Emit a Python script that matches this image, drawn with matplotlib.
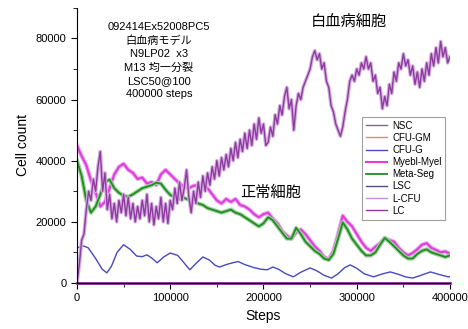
import matplotlib.pyplot as plt
import numpy as np
from matplotlib.ticker import MultipleLocator

# x grids
steps_lc = np.arange(0, 400001, 2500)
steps = np.arange(0, 400001, 5000)

# LC (leukemic cells), read every 2500 steps
lc = [0, 6000, 14000, 16000, 24000, 30000, 27000, 34000, 30000, 38000,
      43000, 30000, 36000, 24000, 29000, 21000, 26000, 20000, 27000, 23000,
      29000, 22000, 28000, 21000, 26000, 20000, 25000, 21000, 27000, 22000,
      29000, 20000, 26000, 19000, 25000, 21000, 28000, 20000, 26000, 19500,
      27000, 24000, 31000, 26000, 33000, 27000, 31000, 37000, 28000, 23000,
      30000, 26000, 33000, 28000, 35000, 30000, 36000, 32000, 38000, 34000,
      40000, 35000, 41000, 37000, 42000, 38000, 44000, 40000, 46000, 41000,
      47000, 43000, 49000, 44000, 50000, 45000, 52000, 47000, 54000, 49000,
      52000, 45000, 46000, 51000, 48000, 55000, 52000, 58000, 55000, 61000,
      64000, 57000, 60000, 50000, 58000, 62000, 60000, 64000, 66000, 68000,
      70000, 74000, 76000, 73000, 75000, 70000, 72000, 66000, 64000, 58000,
      56000, 52000, 50000, 48000, 51000, 56000, 60000, 66000, 68000, 66000,
      70000, 68000, 72000, 70000, 74000, 70000, 72000, 66000, 68000, 62000,
      64000, 57000, 61000, 58000, 65000, 62000, 69000, 66000, 72000, 70000,
      75000, 71000, 73000, 68000, 71000, 65000, 69000, 64000, 70000, 66000,
      72000, 68000, 75000, 71000, 77000, 72000, 79000, 74000, 77000, 72000,
      74000]

# Myebl-Myel, every 5000 steps
myel = [45000, 41500, 38500, 33500, 29500, 25000, 26500, 31000, 35500, 38000,
        39000, 37000, 36000, 34000, 34500, 32500, 33000, 32000, 35500, 37000,
        35500, 34000, 32500, 31500, 31000, 31800, 32000, 31500, 31000, 29000,
        27000, 26000, 27500, 26500, 27500, 25500, 25000, 24000, 22500, 21500,
        22500, 23000, 21000, 19500, 17000, 15500, 14500, 16500, 17500, 16000,
        14000, 12000, 10500, 8500, 7800, 10500, 16000, 22000, 20000, 18500,
        16000, 13500, 11500, 10500, 11800, 13000, 14700, 14000, 13500, 11500,
        10000, 9000, 9800, 11000, 12500, 13000, 11500, 10800, 10000, 10300,
        9500]

# Meta-Seg, every 5000 steps
metaseg = [40000, 35000, 27000, 23000, 25000, 29000, 33000, 33800, 31000, 29500,
           28500, 28200, 29000, 30000, 31000, 31500, 32000, 32800, 32500, 30500,
           28800, 28000, 27500, 27800, 27200, 27000, 26000, 25500, 24500, 24000,
           23500, 23000, 23500, 24000, 23000, 22500, 21500, 20500, 19500, 18500,
           19500, 21500, 20500, 18500, 16500, 14500, 14500, 18000, 16000, 13500,
           12000, 10500, 9500, 8000, 7500, 9500, 14500, 19800, 17500, 14500,
           12500, 10500, 9000, 9000, 10000, 12500, 14700, 13500, 12000, 10500,
           9000, 8000, 8000, 9500, 10500, 11000, 10000, 9500, 9000, 8500,
           9000]

# CFU-G (smooth curve)
steps_g = [0, 7000, 12000, 20000, 27000, 32000, 37000, 43000, 50000, 57000,
           64000, 70000, 75000, 80000, 86000, 93000, 100000, 108000, 115000, 121000,
           128000, 135000, 142000, 148000, 153000, 160000, 167000, 173000, 180000, 190000,
           197000, 204000, 210000, 216000, 224000, 232000, 240000, 250000, 257000, 265000,
           273000, 280000, 287000, 293000, 300000, 308000, 318000, 328000, 336000, 345000,
           352000, 360000, 368000, 379000, 388000, 398000, 400000]
cfu_g = [11500, 12100, 11500, 8000, 4500, 3300, 5500, 10000, 12500, 11000,
         8800, 8600, 9200, 8200, 6600, 8500, 9800, 9000, 6500, 4300,
         6500, 8500, 7500, 5800, 5200, 6000, 6600, 7000, 6000, 5000,
         4500, 4300, 5200, 4500, 3000, 2000, 3500, 4900, 4000, 2500,
         1600, 3000, 5000, 5900, 4800, 3000, 2000, 3000, 3600, 2800,
         2000, 1600, 2400, 3600, 2800, 2000, 2000]

# series staying near zero
steps_zero = [0, 100000, 200000, 300000, 400000]
nsc = [0, 0, 0, 0, 0]
cfu_gm = [0, 0, 0, 0, 0]
lsc = [0, 0, 0, 0, 0]
l_cfu = [0, 0, 0, 0, 0]

info = "092414Ex52008PC5\n白血病モデル\nN9LP02  x3\nM13 均一分裂\nLSC50@100\n400000 steps"

plt.rcParams['font.family'] = ['Liberation Sans', 'Noto Sans CJK JP', 'DejaVu Sans']

fig = plt.figure(figsize=(4.68, 3.29), dpi=100)
ax = fig.add_axes([0.1645, 0.140, 0.797, 0.836])

ax.plot(steps_zero, nsc, color='#7a6a8a', lw=1, label='NSC', clip_on=False)
ax.plot(steps_zero, cfu_gm, color='#d88a8a', lw=1, label='CFU-GM', clip_on=False)
ax.plot(steps_g, cfu_g, color='#4848c0', lw=1, label='CFU-G')
# soft halo under the noisy series
ax.plot(steps, myel, color='#f0a8f0', lw=3)
ax.plot(steps, myel, color='#e03ce0', lw=1.5, label='Myebl-Myel')
ax.plot(steps, metaseg, color='#9cd09c', lw=3)
ax.plot(steps, metaseg, color='#228b22', lw=1.3, label='Meta-Seg')
ax.plot(steps_zero, lsc, color='#5a4a8a', lw=1, label='LSC', clip_on=False)
ax.plot(steps_zero, l_cfu, color='#c58ee0', lw=1, label='L-CFU', clip_on=False)
ax.plot(steps_lc, lc, color='#d4aee0', lw=2.6)
ax.plot(steps_lc, lc, color='#8e3a9e', lw=1.0, label='LC')
ax.plot(steps_zero, l_cfu, color='#8e3a9e', lw=2, clip_on=False)

ax.set_xlim(0, 400000)
ax.set_ylim(0, 90000)
ax.xaxis.set_major_locator(MultipleLocator(100000))
ax.xaxis.set_minor_locator(MultipleLocator(50000))
ax.yaxis.set_major_locator(MultipleLocator(20000))
ax.yaxis.set_minor_locator(MultipleLocator(10000))
ax.spines['top'].set_visible(False)
ax.spines['right'].set_visible(False)
ax.tick_params(labelsize=8, length=4)
ax.tick_params(which='minor', length=3)
ax.set_xlabel('Steps', fontsize=10)
ax.set_ylabel('Cell count', fontsize=10)

ax.text(0.22, 0.95, info, transform=ax.transAxes, ha='center', va='top',
        fontsize=8, linespacing=1.4)
ax.text(0.73, 0.95, '白血病細胞', transform=ax.transAxes, ha='center', va='center', fontsize=11)
ax.text(0.52, 0.33, '正常細胞', transform=ax.transAxes, ha='center', va='center', fontsize=11)

leg = ax.legend(loc='upper left', bbox_to_anchor=(0.764, 0.604), fontsize=7,
                frameon=True, fancybox=False, borderpad=0.4, labelspacing=0.22,
                handlelength=2.2, handletextpad=0.5, borderaxespad=0)
leg.get_frame().set_edgecolor('#888888')
leg.get_frame().set_linewidth(0.8)

plt.savefig('out.png', dpi=100)
